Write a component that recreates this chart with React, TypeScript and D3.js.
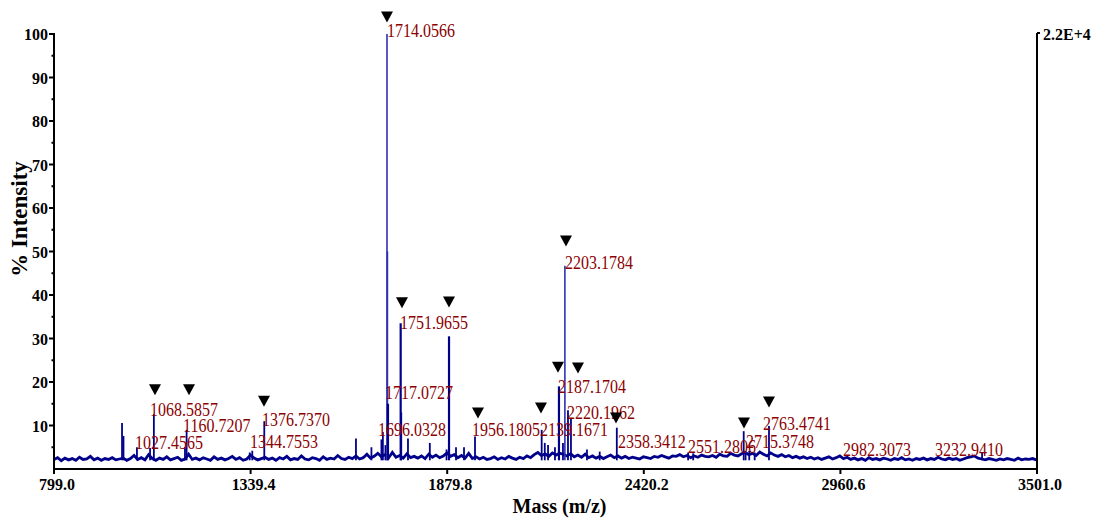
import React from "react";
import * as d3 from "d3";

// ---------- data ----------
const xTicks = [799.0, 1339.4, 1879.8, 2420.2, 2960.6, 3501.0];
const yTicks = [10, 20, 30, 40, 50, 60, 70, 80, 90, 100];
const yMinorTicks = [5, 15, 25, 35, 45, 55, 65, 75, 85, 95];
const rightAxisLabel = "2.2E+4";

// baseline noise, % intensity sampled every 10 Da from 799
const noiseStart = 799;
const noiseStep = 10;
const noiseValues = [
  2.2, 2.6, 1.9, 2.5, 2.1, 2.4, 2.0, 2.7, 2.2, 2.3, 2.9, 2.1, 2.5, 2.0, 2.4, 2.2, 2.6, 2.1, 2.3, 2.5,
  2.0, 2.4, 3.1, 2.2, 2.6, 2.1, 3.3, 2.4, 2.0, 2.5, 2.2, 2.8, 2.1, 2.4, 2.7, 2.0, 2.3, 3.4, 2.2, 2.5,
  2.1, 2.6, 2.3, 2.0, 2.8, 2.2, 2.5, 2.1, 2.4, 2.9, 2.2, 2.6, 2.0, 2.3, 3.2, 2.5, 2.1, 2.4, 2.7, 2.2,
  2.5, 2.0, 2.6, 2.3, 2.9, 2.1, 2.4, 2.2, 3.0, 2.3, 2.1, 2.6, 2.4, 2.0, 2.8, 2.2, 2.5, 2.3, 3.1, 2.4,
  2.2, 2.7, 2.4, 3.0, 2.3, 2.6, 3.4, 2.5, 2.9, 3.6, 2.8, 3.3, 2.6, 3.8, 2.7, 3.1, 2.5, 3.5, 2.6, 2.9,
  2.5, 3.0, 2.4, 3.4, 2.7, 3.2, 2.6, 3.0, 3.7, 2.9, 3.3, 2.6, 3.1, 2.5, 3.6, 2.4, 2.8, 2.3, 2.7, 2.2,
  2.4, 2.8, 2.2, 2.6, 2.3, 2.9, 2.5, 2.2, 2.7, 2.4, 3.0, 2.6, 3.3, 3.8, 3.1, 3.5, 2.9, 3.7, 3.2, 3.6,
  3.4, 3.0, 3.5, 2.8, 3.2, 2.7, 3.4, 2.6, 3.0, 2.5, 2.9, 2.4, 2.8, 3.2, 2.6, 3.0, 2.5, 2.9, 2.4, 2.7,
  2.5, 2.3, 2.8, 2.6, 2.4, 2.9, 2.7, 3.1, 2.8, 2.5, 3.0, 2.9, 3.3, 2.8, 3.1, 2.6, 3.0, 2.7, 3.2, 2.9,
  2.8, 3.1, 2.7, 3.4, 3.0, 2.9, 3.6, 3.2, 3.0, 3.5, 3.8, 3.3, 3.6, 3.1, 3.9, 3.4, 3.0, 3.7, 3.2, 2.9,
  3.3, 2.8, 3.1, 2.6, 2.9, 2.5, 2.8, 2.4, 2.7, 2.3, 2.6, 2.2, 2.5, 2.8, 2.3, 2.6, 3.0, 2.4, 2.7, 2.2,
  2.5, 2.1, 2.4, 2.0, 2.6, 2.2, 2.4, 2.1, 2.5, 2.3, 2.0, 2.4, 2.2, 2.6, 2.1, 2.3, 2.0, 2.4, 2.2, 2.5,
  2.1, 2.4, 2.2, 2.7, 2.3, 2.1, 2.5, 2.2, 2.4, 2.0, 2.3, 2.6, 2.8, 3.0, 2.5, 2.3, 2.1, 2.4, 2.2, 2.0,
  2.3, 2.1, 2.4, 2.2, 2.0, 2.5, 2.1, 2.3, 2.2, 2.4, 2.1,
];

// peaks (m/z, % intensity)
const peakMz = [
  986, 990, 1027, 1063, 1073.5, 1159, 1163.5, 1337, 1344, 1377, 1629, 1671.5, 1699, 1703, 1710,
  1714.3, 1715.5, 1717, 1751.9, 1753.5, 1772, 1832, 1878, 1884.8, 1904, 1926, 1956.2, 2139.5,
  2148, 2157, 2176, 2187, 2198, 2203.3, 2211.8, 2220, 2264, 2299, 2346, 2542, 2556, 2694.8, 2700,
  2710, 2725, 2764.3, 3350,
];
const peakIntensity = [
  10.6, 7.6, 5.0, 4.8, 12.6, 5.0, 9.0, 3.8, 4.2, 11.0, 7.0, 5.0, 6.8, 8.5, 5.5,
  100, 50, 15, 33.5, 13, 7, 6, 4.5, 30.5, 5, 5, 7.5, 9,
  6, 5.5, 5, 19, 6, 46.7, 13.5, 11.5, 4.5, 4.0, 9.5, 3.8, 3.6, 8.7, 4.0,
  4.2, 3.8, 9.9, 3.9,
];

// peak annotations (anchor m/z, level in %)
const labelTexts = [
  "1714.0566", "1068.5857", "1160.7207", "1376.7370", "1027.4565", "1344.7553", "1751.9655",
  "1717.0727", "1696.0328", "1956.1805", "2139.1671", "2187.1704", "2203.1784", "2220.1962",
  "2358.3412", "2551.2806", "2715.3748", "2763.4741", "2982.3073", "3232.9410",
];
const labelMz = [
  1714.3, 1062.9, 1153.6, 1370.7, 1021.6, 1337.7, 1750.1, 1708.8, 1689.6, 1948.0, 2134.9,
  2184.3, 2203.6, 2209.1, 2349.0, 2541.7, 2701.0, 2747.8, 2967.7, 3220.6,
];
const labelLevel = [
  100.9, 13.6, 10.1, 11.3, 6.2, 6.4, 33.8, 17.7, 9.0, 9.0, 9.0, 19.1, 47.4, 13.1, 6.4, 5.3,
  6.4, 10.6, 4.4, 4.4,
];

// ▼ markers (m/z, level in %)
const markerMz = [
  1714.3, 1076.6, 1170.1, 1376.2, 1755.5, 1884.7, 1964.4, 2137.6, 2184.3, 2239.3, 2206.3,
  2343.8, 2695.6, 2764.3,
];
const markerLevel = [
  103.9, 18.2, 18.2, 15.6, 38.2, 38.4, 12.9, 14.0, 23.4, 23.2, 52.4, 11.7, 10.6, 15.4,
];

export default function App() {
  const W = 1096;
  const H = 520;
  const x = d3.scaleLinear().domain([799, 3501]).range([54, 1037]);
  const y = d3.scaleLinear().domain([0, 100]).range([469, 34]);

  const noisePts: [number, number][] = noiseValues.map((v, i) => [noiseStart + i * noiseStep, v]);
  const line = d3
    .line<[number, number]>()
    .x((d) => x(d[0]))
    .y((d) => y(d[1]));

  const serif = "'Liberation Serif', 'Times New Roman', serif";
  const labelColor = "#8b0000";
  const specColor = "#00008b";
  const x0 = x.range()[0];
  const x1 = x.range()[1];
  const yb = y(0);
  const yt = y(100) - 1;

  return (
    <svg
      width={W}
      height={H}
      viewBox={`0 0 ${W} ${H}`}
      style={{ position: "absolute", left: 0, top: 0, background: "#fff", display: "block" }}
    >
      <rect width={W} height={H} fill="#fff" />

      {/* baseline noise */}
      <path d={line(noisePts) || ""} fill="none" stroke={specColor} strokeWidth={2.8} strokeLinejoin="miter" />

      {/* peaks */}
      {peakMz.map((m, i) => {
        const h = peakIntensity[i];
        return (
          <line
            key={"p" + i}
            x1={x(m)}
            x2={x(m)}
            y1={y(2.0)}
            y2={y(h)}
            stroke={h > 40 ? "#3030b0" : specColor}
            strokeWidth={h > 40 ? 1.6 : h > 14 && h < 60 ? 2.2 : 1.8}
          />
        );
      })}

      {/* annotations */}
      {labelTexts.map((t, i) => (
        <g key={"l" + i} transform={`translate(${x(labelMz[i])},${y(labelLevel[i])}) scale(1,1.15)`}>
          <text x={0} y={0} dy="0.36em" fontFamily={serif} fontSize={16} fill={labelColor}>
            {t}
          </text>
        </g>
      ))}

      {/* markers */}
      {markerMz.map((m, i) => {
        const cx = x(m);
        const cy = y(markerLevel[i]);
        return (
          <path
            key={"m" + i}
            d={`M${cx - 6},${cy - 5.5}L${cx + 6},${cy - 5.5}L${cx},${cy + 5.5}Z`}
            fill="#000"
          />
        );
      })}

      {/* left axis */}
      <line x1={x0} x2={x0} y1={yt} y2={yb + 1} stroke="#000" strokeWidth={2} />
      {yTicks.map((t) => (
        <g key={"yt" + t}>
          <line x1={x0 - 5} x2={x0} y1={y(t)} y2={y(t)} stroke="#000" strokeWidth={2} />
          <g transform={`translate(${x0 - 6},${y(t)}) scale(1,1.1)`}>
            <text x={0} y={0} dy="0.36em" textAnchor="end" fontFamily={serif} fontWeight="bold" fontSize={16} fill="#000">
              {t}
            </text>
          </g>
        </g>
      ))}
      {yMinorTicks.map((t) => (
        <line key={"ym" + t} x1={x0 - 2.5} x2={x0} y1={y(t)} y2={y(t)} stroke="#000" strokeWidth={2} />
      ))}

      {/* right axis */}
      <line x1={x1} x2={x1} y1={yt} y2={yb + 1} stroke="#000" strokeWidth={2} />
      <line x1={x1} x2={x1 + 3} y1={yt} y2={yt} stroke="#000" strokeWidth={2} />
      <g transform={`translate(${x1 + 6},${yt + 1}) scale(1,1.1)`}>
        <text x={0} y={0} dy="0.36em" fontFamily={serif} fontWeight="bold" fontSize={16} fill="#000">
          {rightAxisLabel}
        </text>
      </g>

      {/* bottom axis */}
      <line x1={x0 - 1} x2={x1 + 1} y1={yb} y2={yb} stroke="#000" strokeWidth={2} />
      {xTicks.map((t) => (
        <g key={"xt" + t}>
          <line x1={x(t)} x2={x(t)} y1={yb} y2={yb + 5} stroke="#000" strokeWidth={2} />
          <g transform={`translate(${x(t) + 3},${yb + 21}) scale(1,1.1)`}>
            <text x={0} y={0} textAnchor="middle" fontFamily={serif} fontWeight="bold" fontSize={16} fill="#000">
              {d3.format(".1f")(t)}
            </text>
          </g>
        </g>
      ))}

      {/* axis titles */}
      <text
        x={(x0 + x1) / 2 + 14}
        y={513}
        textAnchor="middle"
        fontFamily={serif}
        fontWeight="bold"
        fontSize={20}
        fill="#000"
      >
        Mass (m/z)
      </text>
      <text
        transform={`translate(27,${(yt + yb) / 2 - 32}) rotate(-90)`}
        textAnchor="middle"
        fontFamily={serif}
        fontWeight="bold"
        fontSize={23}
        fill="#000"
      >
        % Intensity
      </text>
    </svg>
  );
}
